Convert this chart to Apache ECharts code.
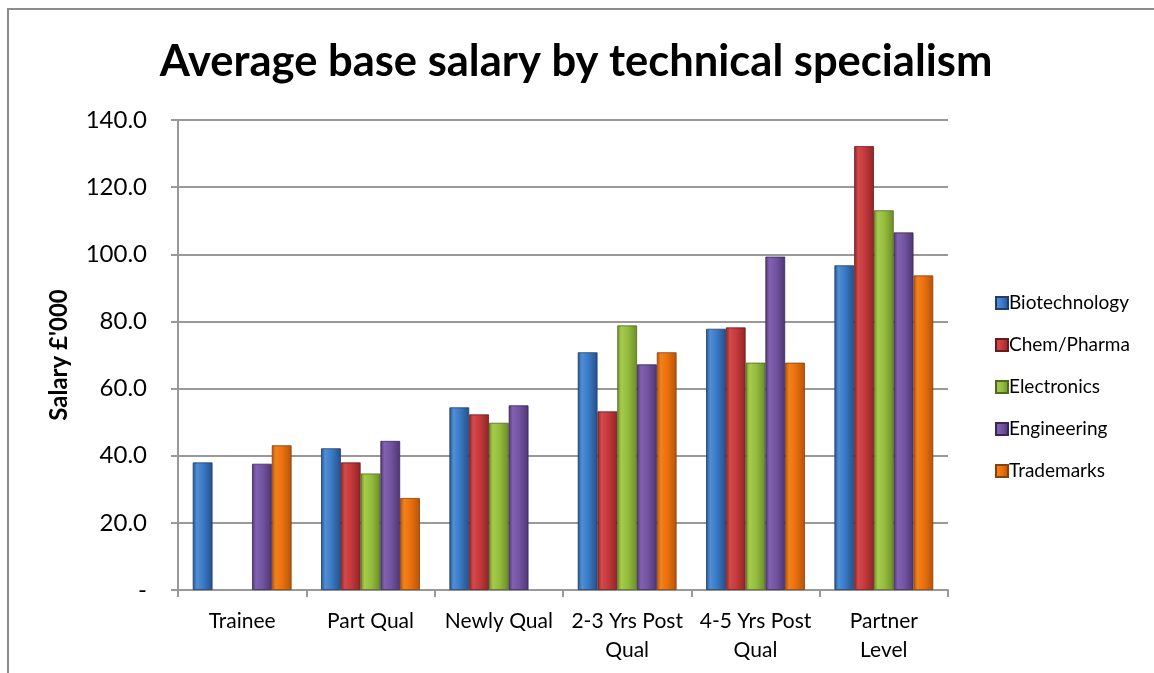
<!DOCTYPE html>
<html>
<head>
<meta charset="utf-8">
<script src="https://cdn.jsdelivr.net/npm/echarts@6/dist/echarts.min.js"></script>
<style>
html,body{margin:0;padding:0;background:#fff;}
#chart{width:1154px;height:673px;}
</style>
</head>
<body>
<div id="chart"></div>
<script>
var titleText = "Average base salary by technical specialism";
var yAxisName = "Salary £'000";
var categories = ["Trainee", "Part Qual", "Newly Qual", "2-3 Yrs Post\nQual", "4-5 Yrs Post\nQual", "Partner\nLevel"];
var seriesNames = ["Biotechnology", "Chem/Pharma", "Electronics", "Engineering", "Trademarks"];
var biotechnology = [38.0, 42.2, 54.4, 70.8, 77.8, 96.7];
var chemPharma   = [null, 38.0, 52.3, 53.2, 78.2, 132.2];
var electronics  = [null, 34.7, 49.8, 78.8, 67.7, 113.1];
var engineering  = [37.6, 44.4, 55.0, 67.2, 99.3, 106.5];
var trademarks   = [43.1, 27.4, null, 70.8, 67.7, 93.7];
var yTicks = [0, 20, 40, 60, 80, 100, 120, 140];

var seriesData = [biotechnology, chemPharma, electronics, engineering, trademarks];
var palette = [
  {dark:'#24508a', mid:'#3a78c2', light:'#4f8fd8', border:'#1f3f66'},
  {dark:'#8e2527', mid:'#c3393b', light:'#d4494b', border:'#6a1a1c'},
  {dark:'#6b8c2a', mid:'#93bb3c', light:'#a6cb4d', border:'#4f6a1e'},
  {dark:'#4f3672', mid:'#7153a0', light:'#8262b0', border:'#3a2755'},
  {dark:'#b4540a', mid:'#e86f0c', light:'#f2811c', border:'#8a4008'}
];

function grad(p){
  return new echarts.graphic.LinearGradient(0,0,1,0,[
    {offset:0, color:p.dark},
    {offset:0.2, color:p.light},
    {offset:0.55, color:p.mid},
    {offset:1, color:p.dark}
  ]);
}

var chart = echarts.init(document.getElementById('chart'));
var fontMain = 'Lato, "Open Sans", sans-serif';

var option = {
  animation:false,
  backgroundColor:'#fff',
  color: palette.map(function(p){return p.mid;}),
  title:{
    text:titleText,
    left:571, top:35, textAlign:'center',
    textStyle:{fontFamily:fontMain, fontWeight:'bold', fontSize:43.5, color:'#000'}
  },
  legend:{
    orient:'vertical',
    left:990, top:288,
    itemWidth:12, itemHeight:12, itemGap:22, icon:'rect',
    textStyle:{fontFamily:fontMain, fontSize:19, lineHeight:20, color:'#000', padding:[0,0,0,-4]},
    data:seriesNames
  },
  grid:{left:178, right:206, top:120, bottom:83, containLabel:false},
  xAxis:{
    type:'category',
    data:categories,
    axisLine:{lineStyle:{color:'#999', width:2}},
    axisTick:{show:true, length:7, alignWithLabel:false, lineStyle:{color:'#999', width:2}},
    axisLabel:{fontFamily:fontMain, fontSize:21, color:'#000', margin:17, lineHeight:29, interval:0}
  },
  yAxis:{
    type:'value',
    min:0, max:140, interval:20,
    name:yAxisName,
    nameLocation:'middle',
    nameGap:107,
    nameTextStyle:{fontFamily:fontMain, fontWeight:'bold', fontSize:24, color:'#000'},
    axisLine:{show:true, lineStyle:{color:'#999', width:2}},
    axisTick:{show:true, length:7, lineStyle:{color:'#999', width:2}},
    splitLine:{lineStyle:{color:'#999', width:2}},
    axisLabel:{fontFamily:fontMain, fontSize:24, color:'#000', margin:31,
      formatter:function(v){ return v === 0 ? '-' : v.toFixed(1); }}
  },
  series: seriesNames.map(function(name, i){
    return {
      name:name,
      type:'bar',
      data:seriesData[i],
      barGap:'0%',
      barCategoryGap:'23%',
      itemStyle:{color:grad(palette[i]), borderColor:palette[i].border, borderWidth:0.8}
    };
  }),
  graphic:[{
    type:'polyline',
    shape:{points:[[8,673],[8,9],[1154,9]]},
    style:{stroke:'#8c8c8c', lineWidth:2, fill:null},
    silent:true
  }]
};
chart.setOption(option);
</script>
</body>
</html>
